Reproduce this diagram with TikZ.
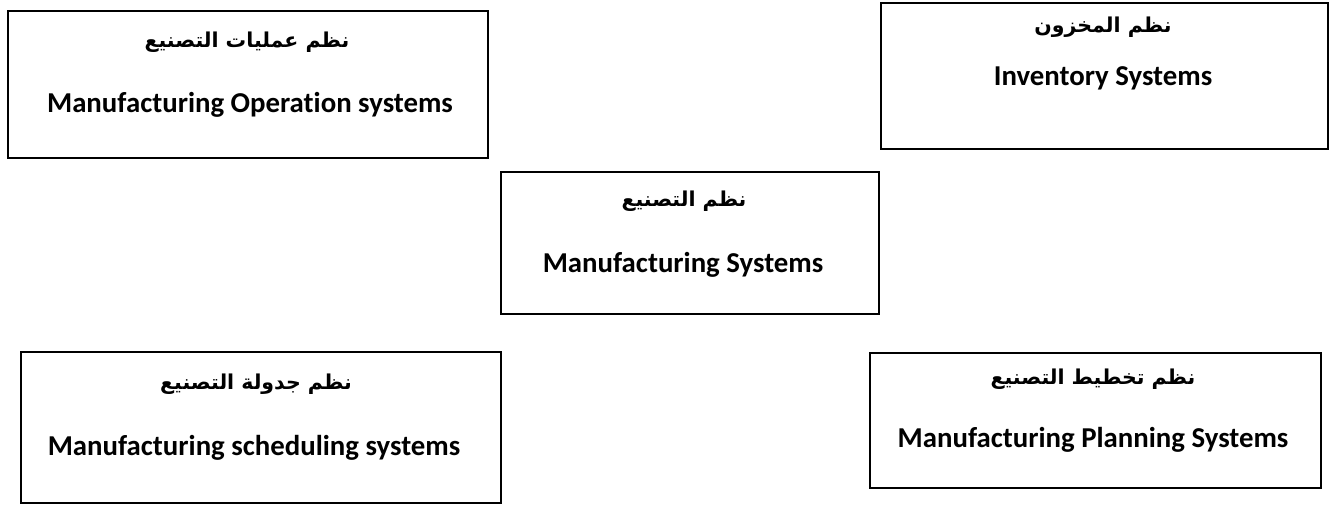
\documentclass[tikz,border=0pt]{standalone}
\usepackage{fontspec}
\setmainfont[Ligatures=NoCommon]{Carlito}
\TeXXeTstate=1
\newfontfamily\arabicfont[Script=Arabic]{DejaVu Sans}
\begin{document}
\begin{tikzpicture}[x=1pt,y=-1pt,
  sysbox/.style={draw, line width=1.6pt, inner sep=0pt, anchor=north west},
  en/.style={font=\fontsize{28.8}{32}\selectfont\bfseries, inner sep=0pt},
  ar/.style={font=\fontsize{20.5}{24}\selectfont\arabicfont\bfseries, inner sep=0pt}]
\useasboundingbox (0,0) rectangle (1330,504);

% the five system boxes
\node[sysbox, minimum width=480pt, minimum height=147pt] (ops) at (7,10) {};
\node[sysbox, minimum width=447pt, minimum height=146pt] (inv) at (880,2) {};
\node[sysbox, minimum width=378pt, minimum height=142pt] (mfg) at (500,171) {};
\node[sysbox, minimum width=480pt, minimum height=151pt] (sched) at (20,351) {};
\node[sysbox, minimum width=451pt, minimum height=135pt] (plan) at (869,352) {};

% titles: Arabic above, English below
\node[ar] (opsAr) at (247,42) {\beginR نظم عمليات التصنيع\endR};
\node[en] (opsEn) at (250,105) {Manufacturing Operation systems};

\node[ar] (invAr) at (1103,27) {\beginR نظم المخزون\endR};
\node[en] (invEn) at (1103,78) {Inventory Systems};

\node[ar] (mfgAr) at (684,201) {\beginR نظم التصنيع\endR};
\node[en] (mfgEn) at (683,265) {Manufacturing Systems};

\node[ar] (schedAr) at (256,384) {\beginR نظم جدولة التصنيع\endR};
\node[en] (schedEn) at (254,448) {Manufacturing scheduling systems};

\node[ar] (planAr) at (1093,379) {\beginR نظم تخطيط التصنيع\endR};
\node[en] (planEn) at (1093,440) {Manufacturing Planning Systems};
\end{tikzpicture}
\end{document}
